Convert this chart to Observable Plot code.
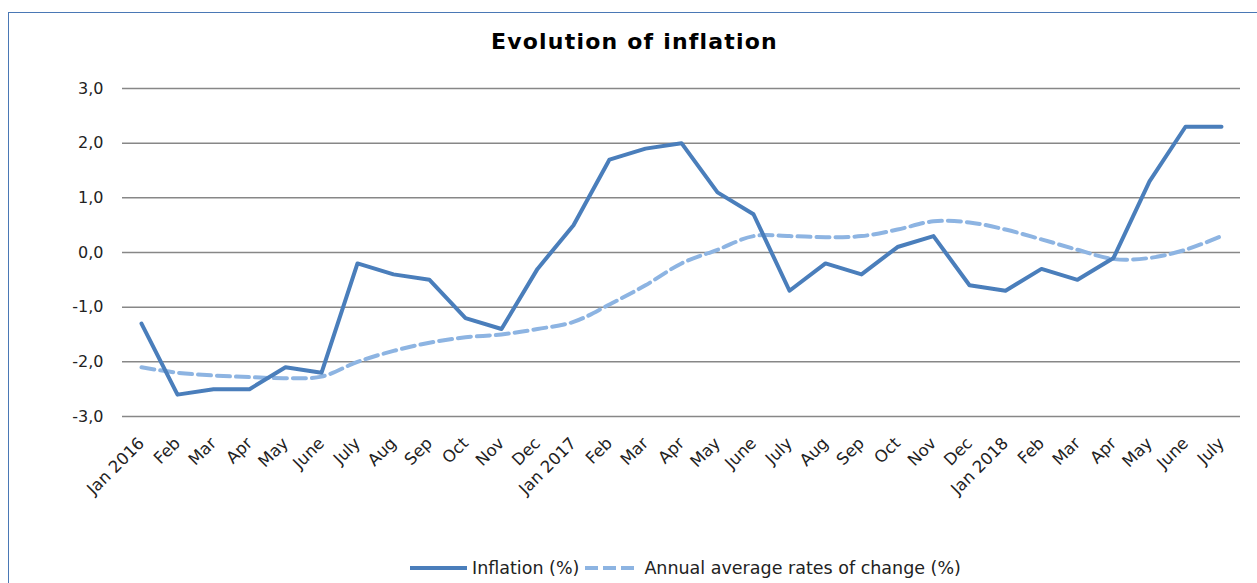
<!DOCTYPE html>
<html>
<head>
<meta charset="utf-8">
<script src="https://cdn.jsdelivr.net/npm/d3@7"></script>
<script src="https://cdn.jsdelivr.net/npm/@observablehq/plot@0.6"></script>
<style>
  html, body { margin: 0; padding: 0; background: #fff; width: 1257px; height: 583px; overflow: hidden; }
  body { position: relative; font-family: "DejaVu Sans", sans-serif; }
  #frame { position: absolute; left: 8px; top: 12px; width: 1400px; height: 800px; border: 1.5px solid #4a78b5; box-sizing: border-box; }
  #title { position: absolute; left: 0; width: 1269px; top: 29px; text-align: center; font-weight: bold; font-size: 22px; letter-spacing: 1.2px; color: #000; }
  #chart { position: absolute; left: 0; top: 60px; }
  #legend { position: absolute; left: 410px; top: 557px; height: 22px; display: flex; align-items: center; font-size: 17.5px; color: #222; white-space: nowrap; }
  #legend svg { display: block; }
</style>
</head>
<body>
<div id="frame"></div>
<div id="title">Evolution of inflation</div>
<div id="chart"></div>
<div id="legend"></div>
<script>
const months = ["Jan 2016","Feb","Mar","Apr","May","June","July","Aug","Sep","Oct","Nov","Dec",
  "Jan 2017","Feb","Mar","Apr","May","June","July","Aug","Sep","Oct","Nov","Dec",
  "Jan 2018","Feb","Mar","Apr","May","June","July"];
const inflation = [-1.3,-2.6,-2.5,-2.5,-2.1,-2.2,-0.2,-0.4,-0.5,-1.2,-1.4,-0.3,
  0.5,1.7,1.9,2.0,1.1,0.7,-0.7,-0.2,-0.4,0.1,0.3,-0.6,
  -0.7,-0.3,-0.5,-0.1,1.3,2.3,2.3];
const annualAvg = [-2.1,-2.2,-2.25,-2.28,-2.3,-2.27,-2.0,-1.8,-1.65,-1.55,-1.5,-1.4,
  -1.27,-0.95,-0.6,-0.2,0.05,0.3,0.3,0.28,0.3,0.42,0.57,0.55,
  0.42,0.24,0.05,-0.12,-0.1,0.05,0.3];
const yTicks = [-3,-2,-1,0,1,2,3];
const seriesNames = ["Inflation (%)", "Annual average rates of change (%)"];
const colors = ["#4a7ebb", "#8db4e2"];

const idx = d3.range(months.length);
const fmt = d => d.toFixed(1).replace(".", ",");

const plot = Plot.plot({
  width: 1257,
  height: 480,
  marginTop: 28,
  marginBottom: 124,
  marginLeft: 122,
  marginRight: 17,
  style: { fontFamily: "DejaVu Sans, sans-serif", fontSize: "16px", color: "#222", background: "transparent" },
  x: { type: "point", domain: idx, padding: 0.5 },
  y: { domain: [-3, 3] },
  marks: [
    Plot.gridY(yTicks, { stroke: "#878787", strokeOpacity: 1, strokeWidth: 1.5 }),
    Plot.axisY(yTicks, { tickSize: 0, tickPadding: 19, tickFormat: fmt, label: null, fontSize: 16 }),
    Plot.axisX(idx, { tickSize: 0, tickPadding: 24, tickRotate: -45, tickFormat: i => months[i], label: null, fontSize: 16.5 }),
    Plot.line(idx, { x: i => i, y: i => annualAvg[i], stroke: colors[1], strokeWidth: 4, strokeDasharray: "13,6", curve: "catmull-rom" }),
    Plot.line(idx, { x: i => i, y: i => inflation[i], stroke: colors[0], strokeWidth: 4, strokeLinejoin: "round" })
  ]
});
document.getElementById("chart").appendChild(plot);

const legend = document.getElementById("legend");
const ns = "http://www.w3.org/2000/svg";
seriesNames.forEach((name, k) => {
  const svg = document.createElementNS(ns, "svg");
  const w = k === 0 ? 57 : 51;
  svg.setAttribute("width", w); svg.setAttribute("height", 8);
  svg.style.marginLeft = k === 0 ? "0px" : "6px";
  const ln = document.createElementNS(ns, "line");
  ln.setAttribute("x1", 0); ln.setAttribute("x2", w); ln.setAttribute("y1", 4); ln.setAttribute("y2", 4);
  ln.setAttribute("stroke", colors[k]); ln.setAttribute("stroke-width", 4);
  if (k === 1) ln.setAttribute("stroke-dasharray", "13,5");
  svg.appendChild(ln);
  legend.appendChild(svg);
  const s = document.createElement("span");
  s.textContent = name;
  s.style.marginLeft = k === 0 ? "5px" : "8px";
  legend.appendChild(s);
});
</script>
</body>
</html>
